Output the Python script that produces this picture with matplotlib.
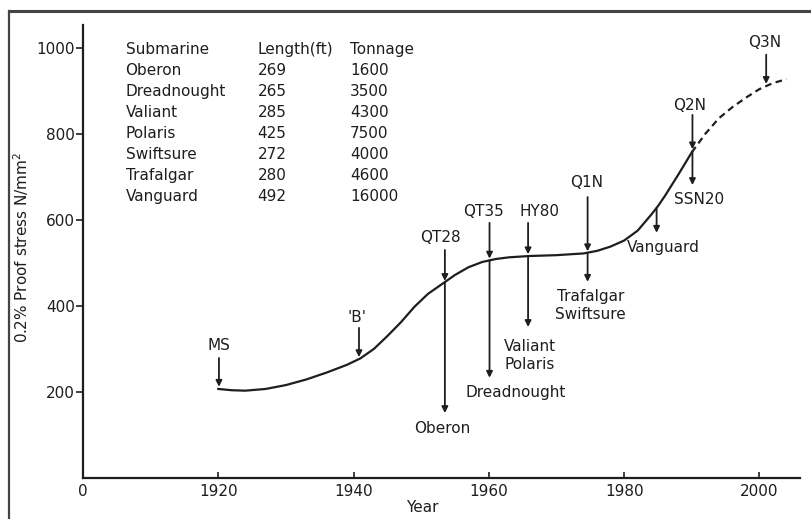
import matplotlib.pyplot as plt
from matplotlib.lines import Line2D

# curve (year, 0.2% proof stress)
years = [1920, 1922, 1924, 1927, 1930, 1933, 1936, 1939, 1941, 1943, 1945,
         1947, 1949, 1951, 1953, 1955, 1957, 1959, 1961, 1963, 1966, 1970,
         1974, 1976, 1978, 1980, 1982, 1984, 1985, 1986, 1988, 1990]
stress = [207, 204, 203, 207, 216, 229, 245, 263, 278, 300, 330,
          362, 398, 428, 450, 472, 490, 502, 509, 513, 516, 518,
          522, 528, 538, 552, 575, 612, 632, 655, 705, 757]
# projected part (dashed)
years_proj = [1990, 1992, 1994, 1996, 1998, 2000, 2002, 2004]
stress_proj = [757, 800, 836, 862, 884, 904, 918, 927]

# materials (arrows pointing down onto the curve)
mat_names = ['MS', "'B'", 'QT28', 'QT35', 'HY80', 'Q1N', 'Q2N', 'Q3N']
mat_years = [1920.1, 1940.8, 1953.5, 1960.1, 1965.8, 1974.6, 1990.1, 2001.0]
mat_stress = [212, 281, 458, 510, 520, 527, 764, 916]

# boats (arrows from the curve down to the name)
boat_names = ['Oberon', 'Dreadnought', 'Valiant\nPolaris', 'Trafalgar\nSwiftsure',
              'Vanguard', 'SSN20']
boat_years = [1953.5, 1960.1, 1965.8, 1974.6, 1984.8, 1990.1]
boat_from = [455, 506, 516, 523, 628, 760]
boat_to = [151, 233, 351, 456, 570, 681]

# table
subs = ['Oberon', 'Dreadnought', 'Valiant', 'Polaris', 'Swiftsure', 'Trafalgar', 'Vanguard']
lengths = [269, 265, 285, 425, 272, 280, 492]
tonnage = [1600, 3500, 4300, 7500, 4000, 4600, 16000]

# label positions
mat_label_x = [1920.1, 1940.5, 1952.8, 1959.2, 1967.5, 1974.4, 1989.7, 2000.8]
mat_label_y = [309, 374, 558, 619, 619, 688, 867, 1012]
mat_tail = [279, 349, 530, 593, 593, 653, 844, 984]
boat_label_x = [1953.1, 1964.0, 1966.05, 1975.05, 1985.8, 1991.1]
boat_label_y = [114, 198, 284, 400, 535, 647]

ink = '#1e1e1e'
plt.rcParams['font.family'] = 'DejaVu Sans'

fig = plt.figure(figsize=(8.11, 5.19), dpi=100)
ax = fig.add_axes([83 / 811, 1 - 478 / 519, 717 / 811, 453 / 519])

ax.plot(years, stress, color=ink, lw=1.6)
ax.plot(years_proj, stress_proj, color=ink, lw=1.6, dashes=(3, 2))

arrow = dict(arrowstyle='-|>', color=ink, lw=1.3, mutation_scale=9,
             shrinkA=0, shrinkB=0)

for name, x, y, lx, ly, tail in zip(mat_names, mat_years, mat_stress,
                                    mat_label_x, mat_label_y, mat_tail):
    ax.annotate('', xy=(x, y), xytext=(x, tail), arrowprops=arrow)
    ax.text(lx, ly, name, ha='center', va='center', fontsize=11, color=ink)

for name, x, y0, y1, lx, ly in zip(boat_names, boat_years, boat_from, boat_to,
                                   boat_label_x, boat_label_y):
    ax.annotate('', xy=(x, y1), xytext=(x, y0), arrowprops=arrow)
    ax.text(lx, ly, name, ha='center', va='center', fontsize=11, color=ink,
            linespacing=1.25)

# submarine table
col_x = [1906.3, 1925.8, 1939.5]
row0 = 995
step = 48.5
ax.text(col_x[0], row0, 'Submarine', fontsize=11, va='center', color=ink)
ax.text(col_x[1], row0, 'Length(ft)', fontsize=11, va='center', color=ink)
ax.text(col_x[2], row0, 'Tonnage', fontsize=11, va='center', color=ink)
for i, (s, l, t) in enumerate(zip(subs, lengths, tonnage)):
    y = row0 - (i + 1) * step
    ax.text(col_x[0], y, s, fontsize=11, va='center', color=ink)
    ax.text(col_x[1], y, str(l), fontsize=11, va='center', color=ink)
    ax.text(col_x[2], y, str(t), fontsize=11, va='center', color=ink)

ax.set_xlim(1900, 2006)
ax.set_ylim(0, 1053)
ax.spines['top'].set_visible(False)
ax.spines['right'].set_visible(False)
for sp in ['left', 'bottom']:
    ax.spines[sp].set_linewidth(1.6)
    ax.spines[sp].set_color(ink)

ax.set_yticks([200, 400, 600, 800, 1000])
ax.set_xticks([1900, 1920, 1940, 1960, 1980, 2000])
ax.set_xticklabels(['0', '1920', '1940', '1960', '1980', '2000'])
ax.tick_params(axis='y', direction='out', length=5, width=1.2, labelsize=11,
               colors=ink, pad=1)
ax.tick_params(axis='x', direction='in', length=4, width=1.2, labelsize=11,
               colors=ink, pad=4)

ax.set_ylabel('0.2% Proof stress N/mm$^2$', fontsize=11, color=ink)
ax.yaxis.set_label_coords(-0.072, 0.51)
ax.set_xlabel('Year', fontsize=11, color=ink)
ax.xaxis.set_label_coords(0.473, -0.048)

# scan frame (top and left edge)
fig.add_artist(Line2D([10 / 811, 1], [1 - 11 / 519, 1 - 11 / 519], color='#444444', lw=2.2))
fig.add_artist(Line2D([9 / 811, 9 / 811], [0, 1 - 11 / 519], color='#444444', lw=1.6))

fig.savefig('out.png', dpi=100)
